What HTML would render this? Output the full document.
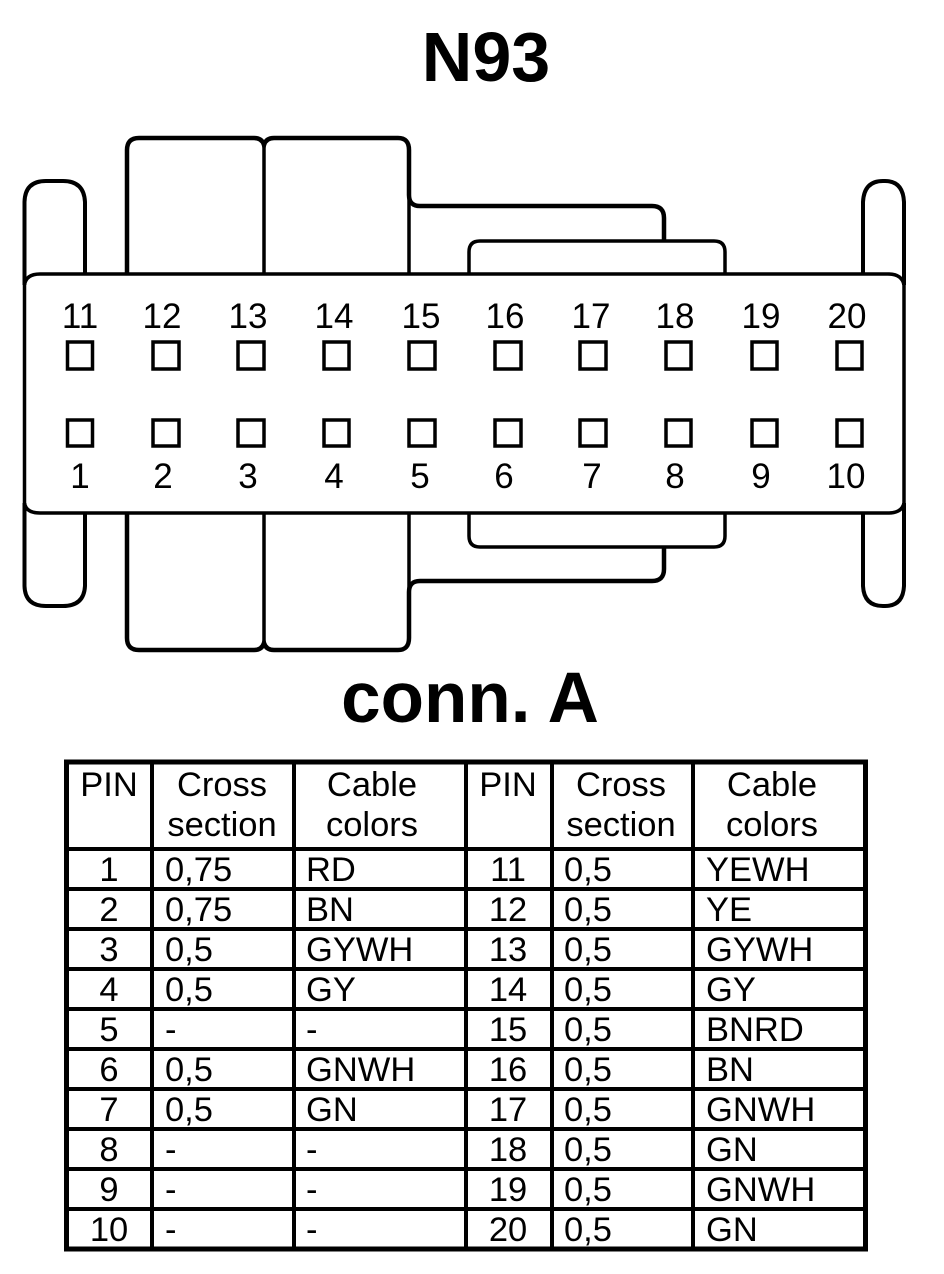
<!DOCTYPE html>
<html><head><meta charset="utf-8"><style>
html,body{margin:0;padding:0;background:#fff}
svg{display:block}
text{font-family:"Liberation Sans",sans-serif;fill:#000}
.l{font-size:35px}
.t{font-size:34.500px}
.m{text-anchor:middle}
</style></head><body>
<svg width="944" height="1274" viewBox="0 0 944 1274" xmlns="http://www.w3.org/2000/svg">
<text x="486" y="81" class="m" style="font-size:70px;font-weight:bold">N93</text>
<g fill="none" stroke="#000" stroke-width="4">
<path d="M24.500 285Q26 274 40 274H888Q902 274 904 285V503Q902 513 888 513H40Q26 513 24.500 503Z" stroke-width="3.500"/>
<path d="M24.500 285V202Q25 181 46 181H63Q84 181 85 202V274" stroke-width="4"/>
<path d="M24.500 503V586Q25 606 46 606H63Q84 606 85 586V513" stroke-width="4"/>
<path d="M863 274V202Q864 181 883 181H885Q903 181 904 202V285" stroke-width="4"/>
<path d="M863 513V586Q864 606 883 606H885Q903 606 904 586V503" stroke-width="4"/>
<path d="M127 274V150Q127 138 139 138H254Q262 138 264 145Q266 138 274 138H398Q409 138 409 150V195Q409 206 420 206H652Q664 206 664 218V241" stroke-width="4.500"/>
<path d="M264 145V274M409 195V274" stroke-width="3.500"/>
<path d="M469 274V252Q469 241 480 241H714Q725 241 725 252V274" stroke-width="3.500"/>
<path d="M127 513V638Q127 650 139 650H254Q262 650 264 643Q266 650 274 650H398Q409 650 409 638V592Q409 581 420 581H652Q664 581 664 569V547" stroke-width="4.500"/>
<path d="M264 643V513M409 592V513" stroke-width="3.500"/>
<path d="M469 513V536Q469 547 480 547H714Q725 547 725 536V513" stroke-width="3.500"/>
<g stroke-width="3.500">
<rect x="67.500" y="342" width="25" height="27"/><rect x="153" y="342" width="26" height="27"/><rect x="238" y="342" width="26" height="27"/><rect x="324" y="342" width="25" height="27"/><rect x="409" y="342" width="26" height="27"/><rect x="495" y="342" width="26" height="27"/><rect x="580" y="342" width="26" height="27"/><rect x="666" y="342" width="25" height="27"/><rect x="752" y="342" width="25" height="27"/><rect x="837" y="342" width="25" height="27"/>
<rect x="67.500" y="420" width="25" height="26"/><rect x="153" y="420" width="26" height="26"/><rect x="238" y="420" width="26" height="26"/><rect x="324" y="420" width="25" height="26"/><rect x="409" y="420" width="26" height="26"/><rect x="495" y="420" width="26" height="26"/><rect x="580" y="420" width="26" height="26"/><rect x="666" y="420" width="25" height="26"/><rect x="752" y="420" width="25" height="26"/><rect x="837" y="420" width="25" height="26"/>
</g>
</g>
<g class="l m">
<text class="l m" x="80" y="328">11</text><text class="l m" x="162" y="328">12</text><text class="l m" x="248" y="328">13</text><text class="l m" x="334" y="328">14</text><text class="l m" x="421" y="328">15</text><text class="l m" x="505" y="328">16</text><text class="l m" x="591" y="328">17</text><text class="l m" x="675" y="328">18</text><text class="l m" x="761" y="328">19</text><text class="l m" x="847" y="328">20</text>
<text class="l m" x="80" y="488">1</text><text class="l m" x="163" y="488">2</text><text class="l m" x="248" y="488">3</text><text class="l m" x="334" y="488">4</text><text class="l m" x="420" y="488">5</text><text class="l m" x="504" y="488">6</text><text class="l m" x="592" y="488">7</text><text class="l m" x="675" y="488">8</text><text class="l m" x="761" y="488">9</text><text class="l m" x="846" y="488">10</text>
</g>
<text x="470" y="722" class="m" style="font-size:71px;font-weight:bold">conn. A</text>
<g stroke="#000" fill="none">
<rect x="66.500" y="762" width="799" height="487" stroke-width="5"/>
<path stroke-width="4" d="M152 762V1249M294 762V1249M466 762V1249M552 762V1249M693 762V1249"/>
<path stroke-width="4" d="M66 849H866M66 889H866M66 929H866M66 969H866M66 1009H866M66 1049H866M66 1089H866M66 1129H866M66 1169H866M66 1209H866"/>
</g>
<g>
<text class="t m" x="109" y="796">PIN</text><text class="t m" x="222" y="796">Cross</text><text class="t m" x="222" y="836">section</text><text class="t m" x="372" y="796">Cable</text><text class="t m" x="372" y="836">colors</text>
<text class="t m" x="508" y="796">PIN</text><text class="t m" x="621" y="796">Cross</text><text class="t m" x="621" y="836">section</text><text class="t m" x="772" y="796">Cable</text><text class="t m" x="772" y="836">colors</text>

<text class="t m" x="109" y="881">1</text><text class="t" x="165" y="881">0,75</text><text class="t" x="306" y="881">RD</text><text class="t m" x="508" y="881">11</text><text class="t" x="564" y="881">0,5</text><text class="t" x="706" y="881">YEWH</text>
<text class="t m" x="109" y="921">2</text><text class="t" x="165" y="921">0,75</text><text class="t" x="306" y="921">BN</text><text class="t m" x="508" y="921">12</text><text class="t" x="564" y="921">0,5</text><text class="t" x="706" y="921">YE</text>
<text class="t m" x="109" y="961">3</text><text class="t" x="165" y="961">0,5</text><text class="t" x="306" y="961">GYWH</text><text class="t m" x="508" y="961">13</text><text class="t" x="564" y="961">0,5</text><text class="t" x="706" y="961">GYWH</text>
<text class="t m" x="109" y="1001">4</text><text class="t" x="165" y="1001">0,5</text><text class="t" x="306" y="1001">GY</text><text class="t m" x="508" y="1001">14</text><text class="t" x="564" y="1001">0,5</text><text class="t" x="706" y="1001">GY</text>
<text class="t m" x="109" y="1041">5</text><text class="t" x="165" y="1041">-</text><text class="t" x="306" y="1041">-</text><text class="t m" x="508" y="1041">15</text><text class="t" x="564" y="1041">0,5</text><text class="t" x="706" y="1041">BNRD</text>
<text class="t m" x="109" y="1081">6</text><text class="t" x="165" y="1081">0,5</text><text class="t" x="306" y="1081">GNWH</text><text class="t m" x="508" y="1081">16</text><text class="t" x="564" y="1081">0,5</text><text class="t" x="706" y="1081">BN</text>
<text class="t m" x="109" y="1121">7</text><text class="t" x="165" y="1121">0,5</text><text class="t" x="306" y="1121">GN</text><text class="t m" x="508" y="1121">17</text><text class="t" x="564" y="1121">0,5</text><text class="t" x="706" y="1121">GNWH</text>
<text class="t m" x="109" y="1161">8</text><text class="t" x="165" y="1161">-</text><text class="t" x="306" y="1161">-</text><text class="t m" x="508" y="1161">18</text><text class="t" x="564" y="1161">0,5</text><text class="t" x="706" y="1161">GN</text>
<text class="t m" x="109" y="1201">9</text><text class="t" x="165" y="1201">-</text><text class="t" x="306" y="1201">-</text><text class="t m" x="508" y="1201">19</text><text class="t" x="564" y="1201">0,5</text><text class="t" x="706" y="1201">GNWH</text>
<text class="t m" x="109" y="1241">10</text><text class="t" x="165" y="1241">-</text><text class="t" x="306" y="1241">-</text><text class="t m" x="508" y="1241">20</text><text class="t" x="564" y="1241">0,5</text><text class="t" x="706" y="1241">GN</text>
</g>
</svg>
</body></html>
